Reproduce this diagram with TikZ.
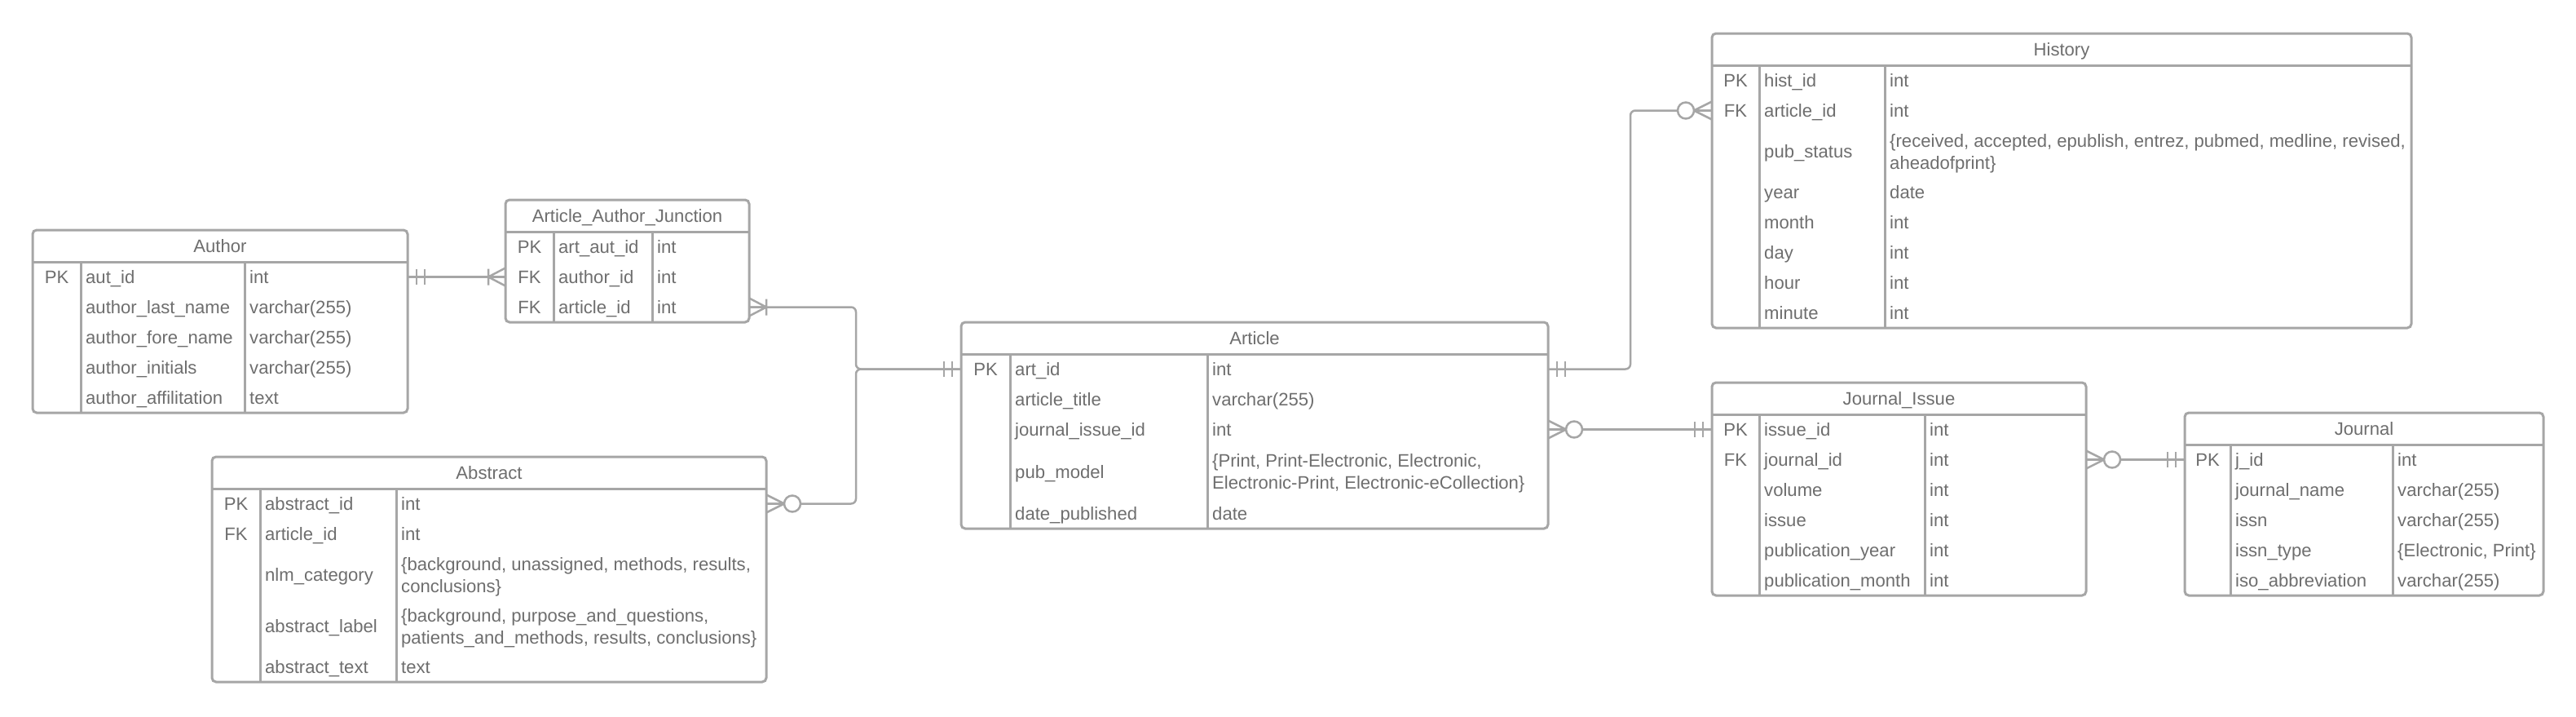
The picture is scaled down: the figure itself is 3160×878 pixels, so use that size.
\documentclass[tikz,border=0pt]{standalone}
\usepackage{fontspec}
\setmainfont{Liberation Sans}
\definecolor{lc}{HTML}{A6A6A6}
\definecolor{tc}{HTML}{6E6E6E}
\tikzset{
  tbl/.style={draw=lc, line width=3pt, rounded corners=5pt, inner sep=0pt, outer sep=0pt, anchor=north west, fill=white},
  sepline/.style={draw=lc, line width=3pt},
  conn/.style={draw=lc, line width=2.5pt, rounded corners=6pt},
  erline/.style={draw=lc, line width=2.5pt},
  txt/.style={text=tc, font=\fontsize{22.1}{27}\selectfont, inner sep=0pt},
  ttl/.style={txt, anchor=base},
  keyc/.style={txt, anchor=base},
  fld/.style={txt, anchor=base west, align=left},
  pics/erone/.style={code={\draw[erline] (11,-9.5)--(11,9.5) (21,-9.5)--(21,9.5);}},
  pics/eronemany/.style={code={\draw[erline, line join=round] (0,-11)--(21,0)--(0,11) (0,0)--(21,0) (21,-10)--(21,10);}},
  pics/erzeromany/.style={code={\draw[erline, line join=round] (0,-11)--(22,0)--(0,11) (0,0)--(22,0); \draw[erline, fill=white] (32,0) circle (10);}}
}
% table frame: name, L, T, R, H, B, D1, D2, title
\newcommand\ertbl[9]{%
  \node[tbl, minimum width={#4-#2}, minimum height={#6-#3}] (#1) at (#2,#3) {};
  \draw[sepline] (#2,#5) -- (#4,#5) (#7,#5) -- (#7,#6) (#8,#5) -- (#8,#6);
  \node[ttl] (#1-title) at ({(#2+#4)/2},{(#3+#5)/2+8}) {#9};
}
% row: name, D1, D2, yc, field, type
\newcommand\errow[6]{%
  \coordinate (#1) at (#2,#4);
  \node[fld] (#1f) at ({#2+6},{#4+8}) {#5};
  \node[fld] (#1t) at ({#3+6},{#4+8}) {#6};
}
% two-line row: name, D1, D2, yc, field, type line 1, type line 2
\newcommand\errowii[7]{%
  \coordinate (#1) at (#2,#4);
  \node[fld] (#1f) at ({#2+6},{#4+8}) {#5};
  \node[fld] (#1t) at ({#3+6},{#4+21.5}) {#6\\#7};
}
% key: name, x, yc, text
\newcommand\erkey[4]{\node[keyc] (#1) at (#2,{#3+8}) {#4};}
\begin{document}
\begin{tikzpicture}[x=1pt,y=-1pt]
\useasboundingbox (0,0) rectangle (3160,878);

% Author
\ertbl{author}{40}{282}{500}{321}{506}{99}{300}{Author}
\erkey{auk1}{69.5}{339.5}{PK}
\errow{au1}{99}{300}{339.5}{aut\_id}{int}
\errow{au2}{99}{300}{376.5}{author\_last\_name}{varchar(255)}
\errow{au3}{99}{300}{413.5}{author\_fore\_name}{varchar(255)}
\errow{au4}{99}{300}{450.5}{author\_initials}{varchar(255)}
\errow{au5}{99}{300}{487.5}{author\_affilitation}{text}

% Article_Author_Junction
\ertbl{junc}{620}{245}{919}{284}{395}{679}{800}{Article\_Author\_Junction}
\erkey{juk1}{649.5}{302.5}{PK}
\erkey{juk2}{649.5}{339.5}{FK}
\erkey{juk3}{649.5}{376.5}{FK}
\errow{ju1}{679}{800}{302.5}{art\_aut\_id}{int}
\errow{ju2}{679}{800}{339.5}{author\_id}{int}
\errow{ju3}{679}{800}{376.5}{article\_id}{int}

% Abstract
\ertbl{abstr}{260}{560}{940}{599}{836}{319}{486}{Abstract}
\erkey{abk1}{289.5}{617.5}{PK}
\erkey{abk2}{289.5}{654.5}{FK}
\errow{ab1}{319}{486}{617.5}{abstract\_id}{int}
\errow{ab2}{319}{486}{654.5}{article\_id}{int}
\errowii{ab3}{319}{486}{704.5}{nlm\_category}{\{background, unassigned, methods, results,}{conclusions\}}
\errowii{ab4}{319}{486}{767.5}{abstract\_label}{\{background, purpose\_and\_questions,}{patients\_and\_methods, results, conclusions\}}
\errow{ab5}{319}{486}{817.5}{abstract\_text}{text}

% Article
\ertbl{article}{1179}{395}{1899}{434}{648}{1239}{1481}{Article}
\erkey{ark1}{1209}{452.5}{PK}
\errow{ar1}{1239}{1481}{452.5}{art\_id}{int}
\errow{ar2}{1239}{1481}{489.5}{article\_title}{varchar(255)}
\errow{ar3}{1239}{1481}{526.5}{journal\_issue\_id}{int}
\errowii{ar4}{1239}{1481}{578}{pub\_model}{\{Print, Print-Electronic, Electronic,}{Electronic-Print, Electronic-eCollection\}}
\errow{ar5}{1239}{1481}{629.5}{date\_published}{date}

% History
\ertbl{history}{2100}{41}{2958}{80}{402}{2158}{2312}{History}
\erkey{hik1}{2129}{98.5}{PK}
\erkey{hik2}{2129}{135.5}{FK}
\errow{hi1}{2158}{2312}{98.5}{hist\_id}{int}
\errow{hi2}{2158}{2312}{135.5}{article\_id}{int}
\errowii{hi3}{2158}{2312}{185.5}{pub\_status}{\{received, accepted, epublish, entrez, pubmed, medline, revised,}{aheadofprint\}}
\errow{hi4}{2158}{2312}{235.5}{year}{date}
\errow{hi5}{2158}{2312}{272.5}{month}{int}
\errow{hi6}{2158}{2312}{309.5}{day}{int}
\errow{hi7}{2158}{2312}{346.5}{hour}{int}
\errow{hi8}{2158}{2312}{383.5}{minute}{int}

% Journal_Issue
\ertbl{jissue}{2100}{469}{2559}{508}{730}{2158}{2361}{Journal\_Issue}
\erkey{jik1}{2129}{526.5}{PK}
\erkey{jik2}{2129}{563.5}{FK}
\errow{ji1}{2158}{2361}{526.5}{issue\_id}{int}
\errow{ji2}{2158}{2361}{563.5}{journal\_id}{int}
\errow{ji3}{2158}{2361}{600.5}{volume}{int}
\errow{ji4}{2158}{2361}{637.5}{issue}{int}
\errow{ji5}{2158}{2361}{674.5}{publication\_year}{int}
\errow{ji6}{2158}{2361}{711.5}{publication\_month}{int}

% Journal
\ertbl{journal}{2680}{506}{3120}{545}{730}{2736}{2935}{Journal}
\erkey{jok1}{2708}{563.5}{PK}
\errow{jo1}{2736}{2935}{563.5}{j\_id}{int}
\errow{jo2}{2736}{2935}{600.5}{journal\_name}{varchar(255)}
\errow{jo3}{2736}{2935}{637.5}{issn}{varchar(255)}
\errow{jo4}{2736}{2935}{674.5}{issn\_type}{\{Electronic, Print\}}
\errow{jo5}{2736}{2935}{711.5}{iso\_abbreviation}{varchar(255)}

% connectors
\draw[conn] (author.east |- au1) -- (junc.west |- ju2);
\pic at (author.east |- au1) {erone};
\pic[xscale=-1] at (junc.west |- ju2) {eronemany};

\coordinate (mg) at (1050,452.5);
\draw[conn] (junc.east |- ju3) -| (mg) -- (article.west |- ar1);
\draw[conn] (abstr.east |- ab1) -| (mg) -- (article.west |- ar1);
\pic at (junc.east |- ju3) {eronemany};
\pic at (abstr.east |- ab1) {erzeromany};
\pic[xscale=-1] at (article.west |- ar1) {erone};

\coordinate (hb) at (2000,135.5);
\draw[conn] (article.east |- ar1) -| (hb) -- (history.west |- hi2);
\pic at (article.east |- ar1) {erone};
\pic[xscale=-1] at (history.west |- hi2) {erzeromany};

\draw[conn] (article.east |- ar3) -- (jissue.west |- ji1);
\pic at (article.east |- ar3) {erzeromany};
\pic[xscale=-1] at (jissue.west |- ji1) {erone};

\draw[conn] (jissue.east |- ji2) -- (journal.west |- jo1);
\pic at (jissue.east |- ji2) {erzeromany};
\pic[xscale=-1] at (journal.west |- jo1) {erone};
\end{tikzpicture}
\end{document}
